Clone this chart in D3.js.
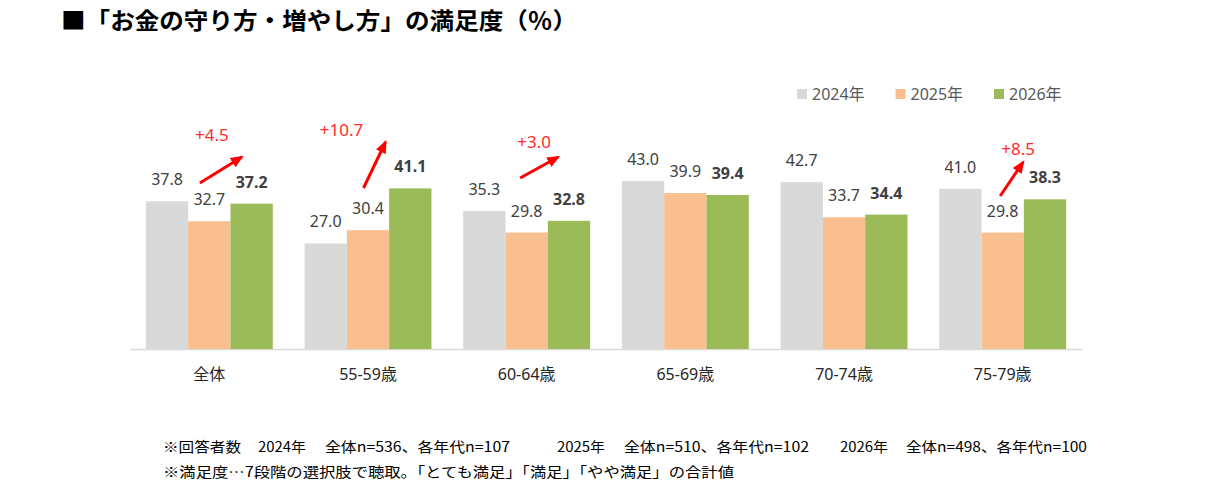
<!DOCTYPE html>
<html lang="ja">
<head>
<meta charset="utf-8">
<title>お金の守り方・増やし方の満足度</title>
<script src="https://cdn.jsdelivr.net/npm/d3@7"></script>
<style>
  body { margin: 0; background: #fff; }
  svg text { font-family: "Noto Sans", "Noto Sans CJK JP", sans-serif; }
</style>
</head>
<body>
<script>
// data
var categories = ["全体", "55-59歳", "60-64歳", "65-69歳", "70-74歳", "75-79歳"];
var years = ["2024年", "2025年", "2026年"];
var values2024 = [37.8, 27.0, 35.3, 43.0, 42.7, 41.0];
var values2025 = [32.7, 30.4, 29.8, 39.9, 33.7, 29.8];
var values2026 = [37.2, 41.1, 32.8, 39.4, 34.4, 38.3];
var colors = ["#d9d9d9", "#f9bf8f", "#9bbb59"];
var footnotes = [
  ["※回答者数", "2024年", "全体n=536、各年代n=107", "2025年", "全体n=510、各年代n=102", "2026年", "全体n=498、各年代n=100"],
  ["※満足度…7段階の選択肢で聴取。「とても満足」「満足」「やや満足」の合計値"]
];
// annotated groups (2026 vs 2025)
var arrowGroups = [0, 1, 2, 5];

var W = 1220, H = 500;
var svg = d3.select("body").append("svg")
    .attr("width", W)
    .attr("height", H);

// title
svg.append("text")
    .attr("x", 61)
    .attr("y", 29)
    .attr("font-size", "23px")
    .attr("font-weight", "bold")
    .attr("fill", "#000")
    .attr("textLength", 516)
    .attr("lengthAdjust", "spacingAndGlyphs")
    .style("font-family", "'Noto Sans CJK JP', sans-serif")
    .text("■「お金の守り方・増やし方」の満足度（％）");

var series = [values2024, values2025, values2026];

var x = d3.scaleBand()
    .domain(categories)
    .range([130, 1082])
    .paddingInner(0.2)
    .paddingOuter(0.1);

var xs = d3.scaleBand()
    .domain(years)
    .range([0, x.bandwidth()]);

var y = d3.scaleLinear()
    .domain([0, 50])
    .range([349, 153.6]);

// axis line
svg.append("g")
    .attr("transform", "translate(0," + y(0) + ")")
    .call(d3.axisBottom(x).tickSize(0).tickPadding(20))
    .call(function (g) {
        g.attr("font-size", null);
        g.select(".domain").attr("stroke", "#d9d9d9").attr("stroke-width", 1.5);
        g.selectAll("text")
            .style("font-size", "16px")
            .attr("fill", "#262626")
            .style("font-family", "'Noto Sans', 'Noto Sans CJK JP', sans-serif");
    });

// bars
var groups = svg.selectAll(".grp")
    .data(categories)
    .enter()
    .append("g")
    .attr("class", "grp")
    .attr("transform", function (d) { return "translate(" + x(d) + ",0)"; });

groups.selectAll("rect")
    .data(function (d, i) {
        return years.map(function (yr, j) { return { year: yr, v: series[j][i], j: j }; });
    })
    .enter()
    .append("rect")
    .attr("x", function (d) { return xs(d.year); })
    .attr("y", function (d) { return y(d.v); })
    .attr("width", xs.bandwidth())
    .attr("height", function (d) { return y(0) - y(d.v); })
    .attr("fill", function (d) { return colors[d.j]; });

// value labels
groups.selectAll("text.val")
    .data(function (d, i) {
        return years.map(function (yr, j) { return { year: yr, v: series[j][i], j: j }; });
    })
    .enter()
    .append("text")
    .attr("class", "val")
    .attr("text-anchor", "middle")
    .attr("x", function (d) { return xs(d.year) + xs.bandwidth() / 2; })
    .attr("y", function (d) { return y(d.v) - 16; })
    .attr("font-size", "16px")
    .attr("font-weight", function (d) { return d.j === 2 ? "bold" : "normal"; })
    .attr("fill", "#404040")
    .text(function (d) { return d.v.toFixed(1); });

// legend
var legend = svg.append("g").attr("transform", "translate(797,0)");
years.forEach(function (yr, j) {
    var lg = legend.append("g").attr("transform", "translate(" + (j * 98.5) + ",0)");
    lg.append("rect")
        .attr("x", 0).attr("y", 89)
        .attr("width", 10).attr("height", 10)
        .attr("fill", colors[j]);
    lg.append("text")
        .attr("x", 15).attr("y", 100)
        .attr("font-size", "16px")
        .attr("fill", "#595959")
        .text(yr);
});

// arrows
svg.append("defs").append("marker")
    .attr("id", "head")
    .attr("viewBox", "0 0 12 10")
    .attr("refX", 10).attr("refY", 5)
    .attr("markerWidth", 13).attr("markerHeight", 11)
    .attr("markerUnits", "userSpaceOnUse")
    .attr("orient", "auto")
    .append("path")
    .attr("d", "M0,0 L12,5 L0,10 Z")
    .attr("fill", "#ff0000");

// arrow geometry: offsets from group band start, y in pixels
var arrowGeo = [
    { x1: 54, y1: 183, x2: 96, y2: 157, lx: 66, ly: 141 },
    { x1: 59, y1: 188, x2: 81, y2: 142, lx: 37, ly: 136 },
    { x1: 57, y1: 178, x2: 95, y2: 157, lx: 71, ly: 148 },
    { x1: 61, y1: 196, x2: 84, y2: 162, lx: 79, ly: 155 }
];

arrowGroups.forEach(function (gi, k) {
    var g = arrowGeo[k];
    var x0 = x(categories[gi]);
    var diff = values2026[gi] - values2025[gi];
    svg.append("line")
        .attr("x1", x0 + g.x1).attr("y1", g.y1)
        .attr("x2", x0 + g.x2).attr("y2", g.y2)
        .attr("stroke", "#ff0000")
        .attr("stroke-width", 3)
        .attr("marker-end", "url(#head)");
    svg.append("text")
        .attr("x", x0 + g.lx).attr("y", g.ly)
        .attr("text-anchor", "middle")
        .attr("font-size", "17px")
        .attr("fill", "#ff2b2b")
        .text("+" + diff.toFixed(1));
});

// footnotes
var fnX1 = [163, 258, 325, 557, 624, 840, 906];
var fnW1 = [78, 48, 185, 48, 185, 48, 181];
footnotes[0].forEach(function (t, i) {
    svg.append("text")
        .attr("x", fnX1[i]).attr("y", 452)
        .attr("font-size", "14px")
        .attr("fill", "#000")
        .attr("textLength", fnW1[i])
        .attr("lengthAdjust", "spacingAndGlyphs")
        .style("font-family", "'Noto Sans CJK JP', sans-serif")
        .text(t);
});
svg.append("text")
    .attr("x", 163).attr("y", 477)
    .attr("font-size", "14px")
    .attr("fill", "#000")
    .attr("textLength", 571)
    .attr("lengthAdjust", "spacingAndGlyphs")
    .style("font-family", "'Noto Sans CJK JP', sans-serif")
    .text(footnotes[1][0]);
</script>
</body>
</html>
